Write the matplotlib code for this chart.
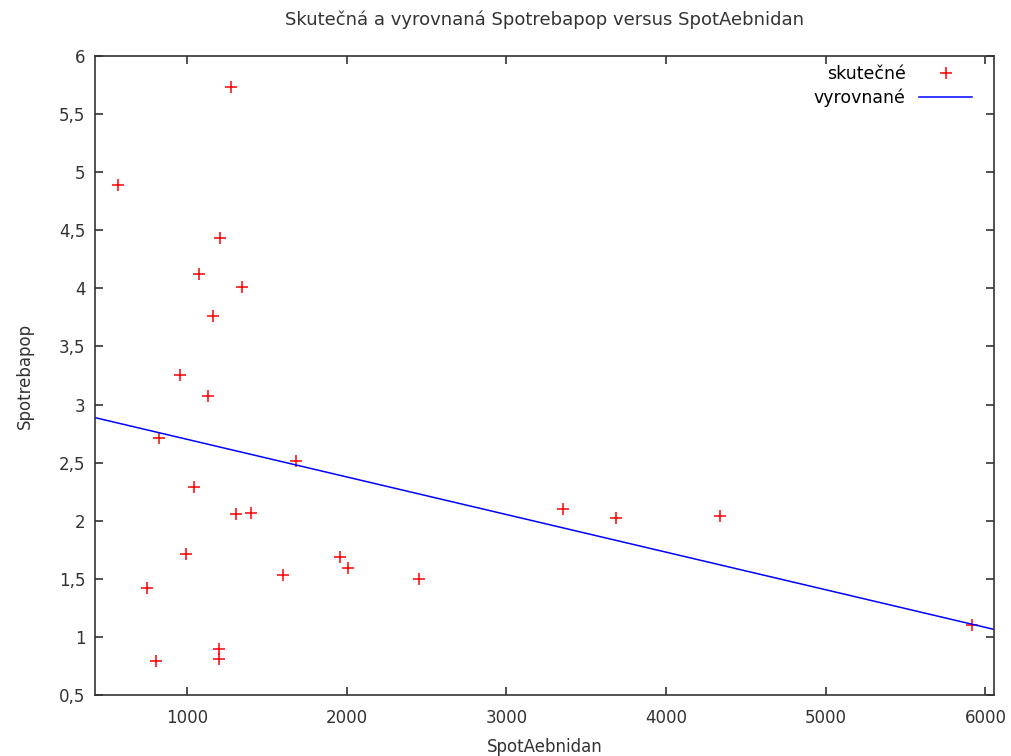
import matplotlib.pyplot as plt
from matplotlib.ticker import FuncFormatter, MultipleLocator

# hodnoty
spot_aebnidan = [567, 1274, 1205, 1074, 1343, 1161, 955, 1130, 823, 1681,
                 1042, 1305, 1399, 3352, 3684, 4335, 992, 1956, 2006, 1599,
                 2450, 748, 5918, 1199, 1199, 804]
spotrebapop = [4.89, 5.73, 4.43, 4.12, 4.01, 3.76, 3.25, 3.07, 2.71, 2.51,
               2.29, 2.06, 2.07, 2.10, 2.02, 2.04, 1.71, 1.69, 1.59, 1.53,
               1.50, 1.42, 1.10, 0.90, 0.81, 0.79]

# vyrovnaná přímka y = a + b*x
fit_a = 3.024
fit_b = -0.0003237
x_range = [423, 6052]

fig = plt.figure(figsize=(10.12, 7.56), dpi=100)
ax = fig.add_axes([0.0939, 0.0807, 0.982 - 0.0939, 0.926 - 0.0807])

ax.plot(spot_aebnidan, spotrebapop, linestyle="none", marker="+", color="red",
        markersize=8, markeredgewidth=1.1, label="skutečné")
ax.plot(x_range, [fit_a + fit_b * x for x in x_range], color="blue",
        linewidth=1.1, label="vyrovnané")

ax.set_xlim(x_range)
ax.set_ylim(0.5, 6)
ax.xaxis.set_major_locator(MultipleLocator(1000))
ax.yaxis.set_major_locator(MultipleLocator(0.5))
ax.yaxis.set_major_formatter(FuncFormatter(lambda v, p: f"{v:g}".replace(".", ",")))

for s in ax.spines.values():
    s.set_color("#333333")
    s.set_linewidth(1.2)
ax.tick_params(direction="in", top=True, right=True, length=6, width=1.2,
               color="#333333", labelsize=12, labelcolor="#333333")
ax.tick_params(axis="x", pad=10)
ax.tick_params(axis="y", pad=7)

ax.set_title("Skutečná a vyrovnaná Spotrebapop versus SpotAebnidan",
             fontsize=13, color="#333333", pad=22)
ax.set_xlabel("SpotAebnidan", fontsize=12, color="#333333", labelpad=8)
ax.set_ylabel("Spotrebapop", fontsize=12, color="#333333", labelpad=18)

ax.legend(loc="upper right", bbox_to_anchor=(0.983, 0.996), frameon=False,
          markerfirst=False, fontsize=12.5, handlelength=3.0,
          handletextpad=0.8, borderaxespad=0.1, borderpad=0.3,
          labelspacing=0.3)

fig.savefig("out.png", dpi=100)
